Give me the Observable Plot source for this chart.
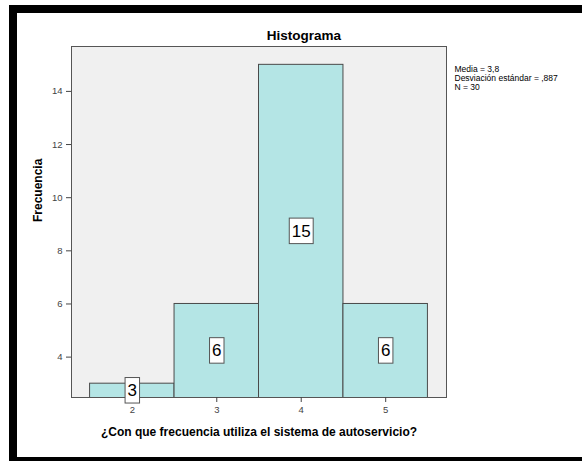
<!DOCTYPE html>
<html><head><meta charset="utf-8">
<script src="https://cdn.jsdelivr.net/npm/d3@7"></script>
<script src="https://cdn.jsdelivr.net/npm/@observablehq/plot@0.6"></script>
<style>
html,body{margin:0;padding:0;background:#fff;}
#wrap{position:relative;width:582px;height:461px;overflow:hidden;}
#border{position:absolute;left:9px;top:5px;width:700px;height:444px;border:8px solid #000;}
#chart{position:absolute;left:0;top:0;}
</style></head><body>
<div id="wrap"><div id="border"></div><div id="chart"></div></div>
<script>
const categories = [2, 3, 4, 5];
const counts = [3, 6, 15, 6];
const yTicks = [4, 6, 8, 10, 12, 14];
const xTicks = [2, 3, 4, 5];
const statsLines = ["Media = 3,8", "Desviación estándar = ,887", "N = 30"];
const title = "Histograma";
const xLabel = "¿Con que frecuencia utiliza el sistema de autoservicio?";
const yLabel = "Frecuencia";
const yDomain = [2.48, 15.69];
const xDomain = [1.28, 5.72];

const data = categories.map((c, i) => ({x: c, count: counts[i]}));
const font = "Liberation Sans, Arial, sans-serif";

const chart = Plot.plot({
  width: 582,
  height: 461,
  marginLeft: 71,
  marginRight: 136,
  marginTop: 46,
  marginBottom: 64,
  style: {fontFamily: font, background: "transparent", overflow: "visible"},
  x: {domain: xDomain, axis: null},
  y: {domain: yDomain, axis: null},
  marks: [
    Plot.frame({fill: "#f0f0f0", stroke: "none"}),
    Plot.rect(data, {x1: d => d.x - 0.5, x2: d => d.x + 0.5, y1: 0, y2: "count",
      fill: "#b4e5e5", stroke: "#4a4a4a", strokeWidth: 1, clip: "frame"}),
    Plot.frame({stroke: "#555", strokeWidth: 1}),
    Plot.axisY({ticks: yTicks, tickSize: 5, tickFormat: d => d, fontSize: 9.5, color: "#444", label: null}),
    Plot.axisX({ticks: xTicks, tickSize: 5, tickFormat: d => d, fontSize: 9.5, color: "#444", label: null}),
    Plot.text(data, {x: "x", y: d => (yDomain[0] + d.count) / 2, text: d => String(d.count),
      fontSize: 17, fill: "#000"}),
    Plot.text([title], {frameAnchor: "top", lineAnchor: "middle", dx: 45, dy: -11, fontSize: 13.5, fontWeight: "bold", fill: "#000"}),
    Plot.text([yLabel], {frameAnchor: "left", rotate: -90, dx: -33, fontSize: 12, fontWeight: "bold", fill: "#000"}),
    Plot.text([xLabel], {frameAnchor: "bottom", lineAnchor: "middle", dy: 35, fontSize: 12, fontWeight: "bold", fill: "#000"}),
    Plot.text([statsLines.join("\n")], {frameAnchor: "top-right", textAnchor: "start", lineAnchor: "top",
      dx: 8, dy: 19, fontSize: 8.5, lineHeight: 1.06, fill: "#000"})
  ]
});
document.getElementById("chart").appendChild(chart);

// white boxes behind the bar value labels (first text mark = bar labels)
const labelGroup = chart.querySelector('g[aria-label="text"]');
labelGroup.querySelectorAll('text').forEach(t => {
  const bb = t.getBBox();
  const r = document.createElementNS("http://www.w3.org/2000/svg", "rect");
  r.setAttribute("x", bb.x - 2.5);
  r.setAttribute("y", bb.y - 3.5);
  r.setAttribute("width", bb.width + 5);
  r.setAttribute("height", bb.height + 6.5);
  r.setAttribute("fill", "#fff");
  r.setAttribute("stroke", "#555");
  r.setAttribute("stroke-width", 1);
  const tr = t.getAttribute("transform");
  if (tr) r.setAttribute("transform", tr);
  t.parentNode.insertBefore(r, t);
});
</script>
</body></html>
